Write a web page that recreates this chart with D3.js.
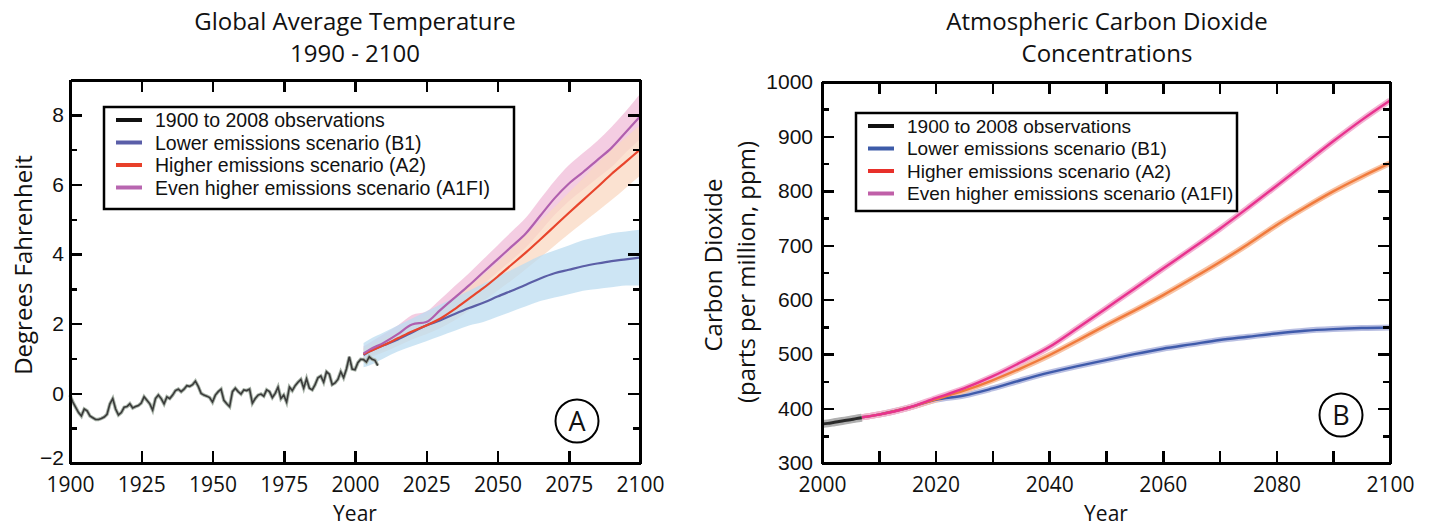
<!DOCTYPE html>
<html>
<head>
<meta charset="utf-8">
<script src="https://cdn.jsdelivr.net/npm/d3@7"></script>
<style>
body{margin:0;background:#fff}
svg text{fill:#111}
.ax path,.ax line{stroke:#000;stroke-width:2.5;shape-rendering:crispEdges}
.ax .domain{stroke-width:2.5}
.myr{font-family:"Open Sans",sans-serif}
.ari{font-family:"Liberation Sans",Arial,sans-serif}
</style>
</head>
<body>
<svg id="chart" width="1431" height="527"></svg>
<script>
// ---------- data : panel A (temperature, deg F) ----------
var obsYears=d3.range(1900,2009)
var obsTemp=[-0.05,-0.25,-0.40,-0.55,-0.65,-0.45,-0.50,-0.65,-0.70,-0.75,
  -0.75,-0.72,-0.68,-0.60,-0.30,-0.15,-0.45,-0.62,-0.55,-0.40,
  -0.38,-0.30,-0.42,-0.38,-0.35,-0.28,-0.10,-0.20,-0.30,-0.48,
  -0.15,-0.05,-0.15,-0.30,-0.10,-0.15,-0.05,0.08,0.12,0.05,
  0.12,0.22,0.20,0.25,0.35,0.20,0.00,-0.05,-0.08,-0.12,
  -0.25,-0.05,0.05,0.12,-0.20,-0.30,-0.38,0.05,0.15,0.05,
  -0.02,0.10,0.08,0.12,-0.28,-0.15,-0.05,-0.02,-0.08,0.10,
  0.05,-0.12,0.00,0.18,-0.15,-0.05,-0.25,0.18,0.08,0.22,
  0.32,0.40,0.15,0.42,0.15,0.10,0.25,0.45,0.50,0.32,
  0.62,0.55,0.25,0.30,0.40,0.62,0.45,0.70,1.05,0.70,
  0.68,0.88,0.98,0.97,0.90,1.05,0.98,0.95,0.80]

var projYears=[2003,2005,2010,2015,2020,2025,2030,2035,2040,2045,2050,2055,2060,2065,2070,2075,2080,2085,2090,2095,2100]
var b1Temp=[1.10,1.20,1.38,1.55,1.75,1.95,2.10,2.28,2.45,2.60,2.78,2.95,3.12,3.30,3.45,3.55,3.65,3.73,3.80,3.85,3.90]
var b1Low=[0.75,0.80,1.00,1.20,1.35,1.50,1.65,1.80,1.95,2.05,2.20,2.35,2.50,2.65,2.75,2.85,2.95,3.00,3.05,3.10,3.10]
var b1High=[1.45,1.55,1.75,1.95,2.15,2.35,2.55,2.75,2.95,3.15,3.35,3.55,3.75,3.95,4.10,4.25,4.40,4.50,4.60,4.65,4.70]
var a2Temp=[1.12,1.20,1.38,1.58,1.78,1.95,2.15,2.42,2.72,3.02,3.35,3.70,4.05,4.42,4.80,5.18,5.55,5.92,6.30,6.65,7.00]
var a2Low=[0.95,1.02,1.18,1.36,1.55,1.70,1.88,2.10,2.38,2.65,2.95,3.25,3.57,3.90,4.24,4.58,4.90,5.22,5.55,5.90,6.25]
var a2High=[1.30,1.38,1.58,1.80,2.02,2.22,2.45,2.75,3.07,3.40,3.75,4.15,4.55,4.95,5.35,5.77,6.18,6.60,7.00,7.35,7.70]
var a1Temp=[1.15,1.25,1.45,1.70,1.98,2.05,2.40,2.75,3.10,3.48,3.85,4.22,4.60,5.10,5.60,6.02,6.35,6.70,7.05,7.50,7.95]
var a1Low=[0.95,1.05,1.25,1.48,1.72,1.85,2.12,2.45,2.78,3.13,3.48,3.83,4.20,4.65,5.12,5.52,5.85,6.18,6.50,6.92,7.30]
var a1High=[1.35,1.45,1.70,1.95,2.25,2.35,2.70,3.08,3.45,3.85,4.25,4.65,5.05,5.58,6.10,6.55,6.90,7.25,7.65,8.10,8.60]

var tempXTicks=[1900,1925,1950,1975,2000,2025,2050,2075,2100]
var tempYTicks=[-2,0,2,4,6,8]
var tempYMinor=[-1,1,3,5,7]

// ---------- data : panel B (CO2, ppm) ----------
var co2ObsYears=[2000,2001,2002,2003,2004,2005,2006,2007]
var co2Obs=[371.5,372.8,374.5,376.3,377.9,379.6,381.5,383.2]
var co2Years=[2007,2010,2015,2020,2025,2030,2035,2040,2045,2050,2055,2060,2065,2070,2075,2080,2085,2090,2095,2100]
var co2B1=[384,389,401,416,424,437,452,466,478,489,500,510,518,526,532,538,543,546,548,549]
var co2A2=[384,389,401,417,433,452,474,498,525,553,580,608,638,669,702,737,769,799,826,851]
var co2A1=[384,389,401,419,437,459,485,513,548,584,620,657,693,730,769,809,850,891,930,966]

var co2XTicks=[2000,2010,2020,2030,2040,2050,2060,2070,2080,2090,2100]
var co2YTicks=[300,400,500,600,700,800,900,1000]
var co2YMinor=[350,450,550,650,750,850,950]

var legendLabels=["1900 to 2008 observations","Lower emissions scenario (B1)","Higher emissions scenario (A2)","Even higher emissions scenario (A1FI)"]
var legendColorsA=["#111111","#5a5ea8","#e8402a","#b866b0"]
var legendColorsB=["#111111","#3d5ba8","#e8302a","#c060a8"]

var svg=d3.select("#chart")

// ---------- helpers ----------
function frame(g,x,y,xt,yt,ymin,xfmt,yfmt,ypad){
  var x0=x.range()[0],x1=x.range()[1],y0=y.range()[0],y1=y.range()[1]
  g.append("g").attr("class","ax myr").attr("transform","translate(0,"+y0+")")
    .call(d3.axisBottom(x).tickValues(xt).tickSize(-12).tickSizeOuter(0).tickPadding(14).tickFormat(xfmt))
  g.append("g").attr("class","ax").attr("transform","translate(0,"+y1+")")
    .call(d3.axisTop(x).tickValues(xt).tickSize(-12).tickSizeOuter(0).tickFormat(""))
  g.append("g").attr("class","ax yl").attr("transform","translate("+x0+",0)")
    .call(d3.axisLeft(y).tickValues(yt).tickSize(-12).tickSizeOuter(0).tickPadding(ypad).tickFormat(yfmt))
  g.append("g").attr("class","ax").attr("transform","translate("+x1+",0)")
    .call(d3.axisRight(y).tickValues(yt).tickSize(-12).tickSizeOuter(0).tickFormat(""))
  g.append("g").attr("class","ax").attr("transform","translate("+x0+",0)")
    .call(d3.axisLeft(y).tickValues(ymin).tickSize(-7).tickSizeOuter(0).tickFormat(""))
  g.append("g").attr("class","ax").attr("transform","translate("+x1+",0)")
    .call(d3.axisRight(y).tickValues(ymin).tickSize(-7).tickSizeOuter(0).tickFormat(""))
  g.selectAll(".ax text").style("font-size","21px").attr("fill","#111")
}

function legend(g,x,y,w,h,colors,fs){
  g.append("rect").attr("x",x).attr("y",y).attr("width",w).attr("height",h)
    .attr("fill","#fff").attr("stroke","#000").attr("stroke-width",2.5)
  legendLabels.forEach(function(t,i){
    var ly=y+13+i*22.5
    g.append("line").attr("x1",x+12).attr("x2",x+38).attr("y1",ly).attr("y2",ly)
      .attr("stroke",colors[i]).attr("stroke-width",4)
    g.append("text").attr("class","ari").attr("x",x+51).attr("y",ly).attr("dy","0.36em")
      .style("font-size",fs+"px").text(t)
  })
}

function badge(g,cx,cy,t){
  g.append("circle").attr("cx",cx).attr("cy",cy).attr("r",21.5)
    .attr("fill","none").attr("stroke","#000").attr("stroke-width",2)
  g.append("text").attr("class","myr").attr("x",cx).attr("y",cy).attr("dy","0.36em")
    .attr("text-anchor","middle").style("font-size","27px").text(t)
}

// ---------- panel A ----------
var gA=svg.append("g")
var xA=d3.scaleLinear().domain([1900,2100]).range([70,640])
var yA=d3.scaleLinear().domain([-2,9]).range([463,80])

gA.append("text").attr("class","myr").attr("x",355).attr("y",30).attr("text-anchor","middle")
  .style("font-size","24px").text("Global Average Temperature")
gA.append("text").attr("class","myr").attr("x",355).attr("y",62).attr("text-anchor","middle")
  .style("font-size","24px").text("1990 - 2100")
gA.append("text").attr("class","myr").attr("transform","translate(32,265) rotate(-90)")
  .attr("text-anchor","middle").style("font-size","24px").text("Degrees Fahrenheit")
gA.append("text").attr("class","myr").attr("x",355).attr("y",521).attr("text-anchor","middle")
  .style("font-size","21px").text("Year")

var area=d3.area().x(function(d){return xA(d.x)}).y0(function(d){return yA(d.lo)}).y1(function(d){return yA(d.hi)})
  .curve(d3.curveMonotoneX)
var lineA=d3.line().x(function(d){return xA(d.x)}).y(function(d){return yA(d.y)}).curve(d3.curveMonotoneX)

function band(lo,hi){return projYears.map(function(v,i){return {x:v,lo:lo[i],hi:hi[i]}})}
function pts(ys){return projYears.map(function(v,i){return {x:v,y:ys[i]}})}

gA.append("path").attr("d",area(band(a1Low,a1High))).attr("fill","#f0bcd8").attr("opacity",0.75)
gA.append("path").attr("d",area(band(a2Low,a2High))).attr("fill","#fad8c2").attr("opacity",0.75)
gA.append("path").attr("d",area(band(b1Low,b1High))).attr("fill","#bcdcf0").attr("opacity",0.75)

var obs=obsYears.map(function(v,i){return {x:v,y:obsTemp[i]}})
var obsLine=d3.line().x(function(d){return xA(d.x)}).y(function(d){return yA(d.y)})
gA.append("path").attr("d",obsLine(obs)).attr("fill","none").attr("stroke","#a9b4a9").attr("stroke-width",3.5)
gA.append("path").attr("d",obsLine(obs)).attr("fill","none").attr("stroke","#3a3a3a").attr("stroke-width",1.6)

gA.append("path").attr("d",lineA(pts(b1Temp))).attr("fill","none").attr("stroke","#5b5ea6").attr("stroke-width",2.2)
gA.append("path").attr("d",lineA(pts(a2Temp))).attr("fill","none").attr("stroke","#e8452c").attr("stroke-width",2.2)
gA.append("path").attr("d",lineA(pts(a1Temp))).attr("fill","none").attr("stroke","#b05fae").attr("stroke-width",2.2)

frame(gA,xA,yA,tempXTicks,tempYTicks,tempYMinor,d3.format("d"),d3.format("d"),6)
gA.selectAll(".yl text").attr("class","ari").style("font-size","21px")
  .attr("dy",function(d){return d==-2?"0.08em":"0.32em"})
legend(gA,104,107,410,102,legendColorsA,19.5)
badge(gA,577,421,"A")

// ---------- panel B ----------
var gB=svg.append("g")
var xB=d3.scaleLinear().domain([2000,2100]).range([822,1390])
var yB=d3.scaleLinear().domain([300,1000]).range([463,82])

gB.append("text").attr("class","myr").attr("x",1107).attr("y",30).attr("text-anchor","middle")
  .style("font-size","24px").text("Atmospheric Carbon Dioxide")
gB.append("text").attr("class","myr").attr("x",1107).attr("y",62).attr("text-anchor","middle")
  .style("font-size","24px").text("Concentrations")
gB.append("text").attr("class","myr").attr("transform","translate(722,265) rotate(-90)")
  .attr("text-anchor","middle").style("font-size","24px").text("Carbon Dioxide")
gB.append("text").attr("class","myr").attr("transform","translate(755,272) rotate(-90)")
  .attr("text-anchor","middle").style("font-size","24px").text("(parts per million, ppm)")
gB.append("text").attr("class","myr").attr("x",1106).attr("y",521).attr("text-anchor","middle")
  .style("font-size","21px").text("Year")

var lineB=d3.line().x(function(d){return xB(d.x)}).y(function(d){return yB(d.y)}).curve(d3.curveMonotoneX)
function ptsB(ys){return co2Years.map(function(v,i){return {x:v,y:ys[i]}})}

var series=[[co2B1,"#b9bfe2","#3f5bab"],[co2A2,"#f8c4a6","#f07a3c"],[co2A1,"#f3b2d2","#e8328e"]]
series.forEach(function(s){
  gB.append("path").attr("d",lineB(ptsB(s[0]))).attr("fill","none").attr("stroke",s[1]).attr("stroke-width",6)
})
series.forEach(function(s){
  gB.append("path").attr("d",lineB(ptsB(s[0]))).attr("fill","none").attr("stroke",s[2]).attr("stroke-width",2.4)
})
var obsB=co2ObsYears.map(function(v,i){return {x:v,y:co2Obs[i]}})
gB.append("path").attr("d",lineB(obsB)).attr("fill","none").attr("stroke","#b0b0b0").attr("stroke-width",8)
gB.append("path").attr("d",lineB(obsB)).attr("fill","none").attr("stroke","#2a2a2a").attr("stroke-width",3)

frame(gB,xB,yB,co2XTicks,co2YTicks,co2YMinor,function(d){return d%20==0?d:""},d3.format("d"),9)
legend(gB,856,113,381,98,legendColorsB,19)
badge(gB,1341,415,"B")
</script>
</body>
</html>
